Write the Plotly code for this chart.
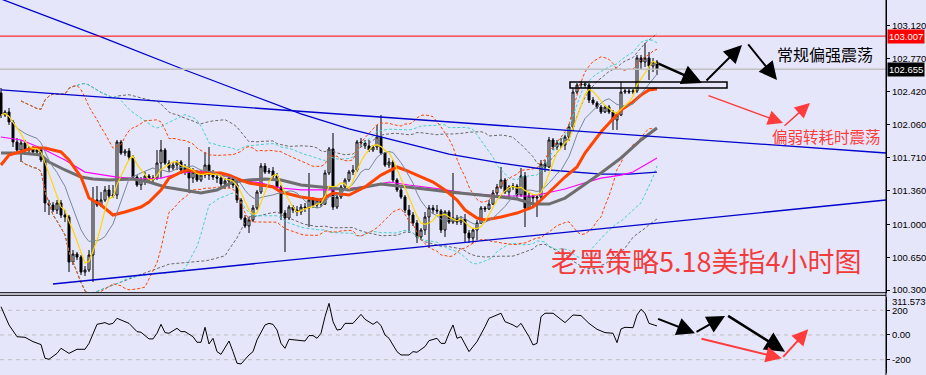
import plotly.graph_objects as go
import pandas as pd

# ---------------- data (4h USD index candles) ----------------
opens = [102.401,102.166,102.198,102.092,101.878,101.793,101.868,101.793,101.814,101.772,
         101.793,101.686,101.228,101.207,101.153,101.228,101.100,101.079,100.599,100.684,
         100.652,100.492,100.514,100.674,101.260,101.207,101.260,101.367,101.303,101.313,
         101.878,101.761,101.782,101.718,101.505,101.420,101.473,101.516,101.473,101.494,
         101.654,101.793,101.654,101.601,101.633,101.665,101.580,101.601,101.494,101.558,
         101.473,101.526,101.633,101.526,101.505,101.494,101.431,101.462,101.494,101.420,
         101.260,101.068,100.983,101.047,101.175,101.345,101.622,101.558,101.569,101.516,
         101.399,101.121,101.068,101.185,101.153,101.132,101.185,101.175,101.260,101.207,
         101.260,101.217,101.548,101.804,101.185,101.292,101.399,101.473,101.558,101.580,
         101.878,101.868,101.836,101.793,101.825,101.932,101.761,101.633,101.665,101.473,
         101.367,101.292,101.153,101.100,101.015,100.866,100.940,101.079,101.175,101.153,
         101.143,100.940,101.132,101.025,101.068,101.025,101.057,100.908,100.855,100.940,
         101.015,101.175,101.164,101.217,101.335,101.399,101.473,101.345,101.399,101.409,
         101.313,101.516,101.175,101.303,101.281,101.292,101.644,101.612,101.900,101.825,
         101.868,101.846,101.932,102.038,102.411,102.486,102.497,102.486,102.326,102.294,
         102.251,102.198,102.251,102.198,102.113,102.166,102.411,102.422,102.411,102.422,
         102.774,102.731,102.774,102.688,102.731]
highs = [102.454,102.219,102.241,102.113,101.921,101.900,101.900,101.836,101.836,101.825,
         101.804,101.708,101.260,101.239,101.260,101.260,101.153,101.100,100.727,100.706,
         100.674,100.556,100.727,101.399,101.409,101.345,101.409,101.420,101.420,101.900,
         101.900,101.804,101.814,101.740,101.526,101.505,101.558,101.537,101.526,101.793,
         101.900,101.814,101.686,101.665,101.686,101.686,101.644,101.825,101.601,101.580,
         101.580,101.772,101.825,101.580,101.558,101.516,101.494,101.526,101.516,101.441,
         101.281,101.100,101.079,101.207,101.367,101.654,101.654,101.601,101.612,101.548,
         101.420,101.153,101.207,101.207,101.196,101.217,101.228,101.548,101.292,101.281,
         101.281,101.580,101.825,101.974,101.313,101.420,101.494,101.580,101.633,101.900,
         101.921,101.900,101.900,101.846,102.060,102.166,101.772,101.708,101.686,101.494,
         101.399,101.313,101.207,101.132,101.047,100.962,101.132,101.207,101.207,101.207,
         101.164,101.153,101.153,101.548,101.100,101.089,101.111,100.940,100.962,101.047,
         101.196,101.196,101.260,101.367,101.431,101.612,101.494,101.420,101.441,101.431,
         101.601,101.558,101.335,101.313,101.313,101.686,101.686,101.932,101.921,101.900,
         101.921,101.953,102.070,102.454,102.507,102.529,102.518,102.507,102.358,102.315,
         102.273,102.273,102.273,102.219,102.198,102.518,102.443,102.443,102.443,102.806,
         102.806,102.934,102.838,102.774,102.752]
lows = [102.134,102.145,102.060,101.825,101.772,101.665,101.740,101.761,101.740,101.729,
        101.665,101.132,101.100,101.132,101.111,101.068,101.025,100.492,100.567,100.620,
        100.460,100.450,100.492,100.386,101.185,101.185,101.239,101.271,101.281,101.271,
        101.740,101.729,101.686,101.473,101.399,101.367,101.420,101.441,101.452,101.473,
        101.494,101.633,101.558,101.580,101.580,101.537,101.526,101.335,101.441,101.452,
        101.452,101.494,101.473,101.473,101.441,101.399,101.377,101.388,101.388,101.228,
        101.047,100.962,100.908,101.025,101.153,101.324,101.537,101.537,101.494,101.367,
        101.047,100.706,101.047,101.121,101.089,101.100,101.132,100.972,101.175,101.175,
        101.185,101.207,101.526,101.153,101.164,101.271,101.367,101.452,101.526,101.558,
        101.825,101.804,101.772,101.772,101.793,101.740,101.612,101.601,101.452,101.345,
        101.271,101.121,100.908,100.983,100.802,100.834,100.887,100.748,101.111,101.111,
        100.908,100.866,101.004,101.004,100.994,100.994,100.802,100.802,100.802,100.834,
        101.004,101.132,101.153,101.207,101.313,101.377,101.324,101.271,101.367,101.281,
        101.292,100.972,101.153,101.196,101.079,101.271,101.558,101.601,101.793,101.793,
        101.814,101.793,101.889,101.996,102.390,102.454,102.454,102.294,102.273,102.230,
        102.177,102.187,102.177,102.006,102.006,102.155,102.390,102.390,102.390,102.401,
        102.646,102.678,102.539,102.624,102.593]
closes = [102.166,102.198,102.092,101.878,101.793,101.868,101.793,101.814,101.772,101.793,
          101.686,101.228,101.207,101.153,101.228,101.100,101.079,100.599,100.684,100.652,
          100.492,100.514,100.674,101.260,101.207,101.260,101.367,101.303,101.313,101.878,
          101.761,101.782,101.718,101.505,101.420,101.473,101.516,101.473,101.494,101.654,
          101.793,101.654,101.601,101.633,101.665,101.580,101.601,101.494,101.558,101.473,
          101.526,101.633,101.526,101.505,101.494,101.431,101.462,101.494,101.420,101.260,
          101.068,100.983,101.047,101.175,101.345,101.622,101.558,101.569,101.516,101.399,
          101.121,101.068,101.185,101.153,101.132,101.185,101.175,101.260,101.207,101.260,
          101.217,101.548,101.804,101.185,101.292,101.399,101.473,101.558,101.580,101.878,
          101.868,101.836,101.793,101.825,101.932,101.761,101.633,101.665,101.473,101.367,
          101.292,101.153,101.100,101.015,100.866,100.940,101.079,101.175,101.153,101.143,
          100.940,101.132,101.025,101.068,101.025,101.057,100.908,100.855,100.940,101.015,
          101.175,101.164,101.217,101.335,101.399,101.473,101.345,101.399,101.409,101.313,
          101.516,101.175,101.303,101.281,101.292,101.644,101.612,101.900,101.825,101.868,
          101.846,101.932,102.038,102.411,102.486,102.497,102.486,102.326,102.294,102.251,
          102.198,102.251,102.198,102.113,102.166,102.411,102.422,102.411,102.422,102.774,
          102.731,102.774,102.688,102.731,102.655]

# moving averages (bar index, price)
ma20_idx = [0,2,8,11,15,17,20,22,25,28,31,35,37,40,42,45,47,50,55,57,60,62,65,68,70,75,80,83,87,91,
            95,99,101,104,108,111,114,116,119,121,125,129,133,135,138,141,144,146,150,155,158,160,162,164]
ma20_val = [101.633,101.740,101.814,101.814,101.772,101.686,101.505,101.281,101.207,101.100,101.132,
            101.185,101.239,101.367,101.494,101.558,101.580,101.548,101.548,101.526,101.473,101.441,
            101.420,101.399,101.345,101.292,101.260,101.335,101.313,101.399,101.526,101.612,101.580,
            101.526,101.452,101.367,101.260,101.153,101.068,101.047,101.079,101.121,101.185,101.260,
            101.388,101.505,101.612,101.761,101.985,102.219,102.305,102.379,102.433,102.443]
ma40_idx = [0,5,10,12,16,20,23,27,33,37,41,45,50,54,58,62,66,70,75,80,87,95,102,108,112,118,125,129,
            133,137,141,145,150,155,160,164]
ma40_val = [101.761,101.761,101.740,101.665,101.580,101.505,101.484,101.473,101.484,101.452,101.399,
            101.367,101.335,101.367,101.452,101.473,101.484,101.473,101.420,101.399,101.367,101.431,
            101.399,101.367,101.345,101.324,101.292,101.271,101.217,101.217,101.281,101.399,101.548,
            101.708,101.900,102.028]
ma60_idx = [0,5,10,16,21,29,35,40,45,50,55,60,65,70,75,83,91,97,102,110,116,125,133,141,145,150,155,
            158,164]
ma60_val = [101.932,101.900,101.814,101.686,101.558,101.505,101.484,101.494,101.548,101.569,101.526,
            101.473,101.441,101.388,101.367,101.367,101.399,101.452,101.420,101.377,101.335,101.303,
            101.303,101.377,101.431,101.494,101.526,101.558,101.708]
ma200_idx = [0,25,46,65,75,87,100,112,125,137,150,157,164]
ma200_val = [103.403,102.998,102.646,102.337,102.177,102.017,101.878,101.750,101.654,101.580,101.537,
             101.537,101.558]

# CCI-type oscillator (bar index, value)
cci_idx = [0,2,4,6,8,10,11,12,14,15,17,19,21,22,24,25,26,27,28,29,31,32,34,35,37,38,39,40,41,42,44,45,
           46,48,49,50,51,52,53,54,55,57,58,59,60,62,63,64,66,67,68,69,70,71,72,74,76,77,78,79,80,81,
           82,83,84,85,86,88,90,91,93,94,95,96,97,99,100,102,103,104,106,107,109,110,111,112,113,114,
           115,117,119,121,122,125,126,128,129,130,132,133,134,135,136,138,140,141,143,145,147,149,151,
           153,154,155,156,158,159,160,161,162,164]
cci_val = [229,81,-14,-19,-54,-78,-189,-197,-149,-108,-149,-116,-116,-68,86,94,100,86,94,135,108,94,
           27,22,-32,-32,14,86,19,14,54,27,27,-14,-59,-59,62,-73,-27,-135,-157,-49,-135,-229,-235,-162,
           -135,-40,81,94,86,40,-68,-108,-35,-40,-49,-5,-5,-27,14,148,256,108,40,46,94,94,167,127,86,
           108,76,0,-27,-135,-162,-162,-135,-140,-94,-46,-27,-68,-68,14,81,-27,-14,-135,-54,67,135,176,
           108,81,62,94,-14,-81,-68,148,176,176,121,100,162,157,94,46,19,14,-62,49,62,59,162,208,176,
           94,73]

# drawn objects (price levels / trend-line end values)
level_red = 103.007
level_last = 102.655
trend_upper_idx = [0, 221.25]
trend_upper_val = [102.433, 101.761]
trend_lower_idx = [13, 221.25]
trend_lower_val = [100.365, 101.260]
box_idx = [142.25, 181.5]
box_val = [102.454, 102.518]

price_ticks = [103.120, 102.770, 102.420, 102.060, 101.710, 101.360, 101.000, 100.650, 100.300]
osc_ticks = [200, 0, -200]
osc_tick_text = ["200", "0.00", "-200"]
osc_max_label = "311.5739"
osc_min_label = "-305.633"

# ---------------- figure ----------------
BG = "#e6e6fa"
X_RANGE = [-0.25, 221.25]
Y_RANGE = [100.272, 103.392]
Y2_RANGE = [-305.633, 311.5739]
idx = list(range(len(closes)))
cs = pd.Series(closes)

fig = go.Figure()
fig.add_trace(go.Candlestick(
    x=idx, open=opens, high=highs, low=lows, close=closes,
    increasing=dict(line=dict(color="black", width=1), fillcolor="white"),
    decreasing=dict(line=dict(color="black", width=1), fillcolor="black"),
    whiskerwidth=0, hoverinfo="skip"))


def bands(period, k=2.0):
    m = cs.rolling(period, min_periods=6).mean()
    s = cs.rolling(period, min_periods=6).std(ddof=0)
    return (m + k * s), (m - k * s)


for period, col in [(40, "#696969"), (30, "#48d1cc"), (20, "#ff4500")]:
    up, lo = bands(period)
    for ser in (up, lo):
        fig.add_trace(go.Scatter(x=idx, y=ser, mode="lines",
                                 line=dict(color=col, width=1, dash="3px,2px"), hoverinfo="skip"))

fig.add_trace(go.Scatter(x=ma200_idx, y=ma200_val, mode="lines", line=dict(color="#0000cd", width=1.3)))
fig.add_trace(go.Scatter(x=ma60_idx, y=ma60_val, mode="lines", line=dict(color="#ff00ff", width=1.2)))
fig.add_trace(go.Scatter(x=ma40_idx, y=ma40_val, mode="lines", line=dict(color="#6e6e6e", width=3)))
fig.add_trace(go.Scatter(x=ma20_idx, y=ma20_val, mode="lines", line=dict(color="#ff4500", width=3)))
fig.add_trace(go.Scatter(x=idx, y=cs.rolling(10, min_periods=1).mean(), mode="lines",
                         line=dict(color="#778899", width=1)))
fig.add_trace(go.Scatter(x=idx, y=cs.rolling(5, min_periods=1).mean(), mode="lines",
                         line=dict(color="#ffd700", width=1.2)))

fig.add_trace(go.Scatter(x=cci_idx, y=cci_val, mode="lines", yaxis="y2",
                         line=dict(color="black", width=1)))

shapes = []
shapes.append(dict(type="line", xref="paper", x0=0, x1=1, yref="y", y0=level_red, y1=level_red,
                   line=dict(color="#ff0000", width=1)))
shapes.append(dict(type="line", xref="paper", x0=0, x1=1, yref="y", y0=level_last, y1=level_last,
                   line=dict(color="#c0c0c0", width=1.5)))
shapes.append(dict(type="line", xref="x", yref="y", x0=trend_upper_idx[0], x1=trend_upper_idx[1],
                   y0=trend_upper_val[0], y1=trend_upper_val[1], line=dict(color="#0000cd", width=1.3)))
shapes.append(dict(type="line", xref="x", yref="y", x0=trend_lower_idx[0], x1=trend_lower_idx[1],
                   y0=trend_lower_val[0], y1=trend_lower_val[1], line=dict(color="#0000cd", width=1.3)))
shapes.append(dict(type="rect", xref="x", yref="y", x0=box_idx[0], x1=box_idx[1],
                   y0=box_val[0], y1=box_val[1], line=dict(color="black", width=1.5)))
for lv in (200, 0, -200):
    shapes.append(dict(type="line", xref="paper", x0=0, x1=1, yref="y2", y0=lv, y1=lv,
                       line=dict(color="#c0c0c0", width=1, dash="4px,4px"), layer="below"))
# pane borders
shapes.append(dict(type="line", xref="paper", yref="paper", x0=0, x1=1,
                   y0=1 - 292.7 / 375, y1=1 - 292.7 / 375, line=dict(color="black", width=1)))
shapes.append(dict(type="line", xref="paper", yref="paper", x0=0, x1=1,
                   y0=1 - 295.3 / 375, y1=1 - 295.3 / 375, line=dict(color="black", width=1)))
shapes.append(dict(type="line", xref="paper", yref="paper", x0=1, x1=1, y0=0, y1=1,
                   line=dict(color="black", width=1)))

ann = []


def arrow(x0, y0, x1, y1, color, width, size, yref="y"):
    ann.append(dict(x=x1, y=y1, ax=x0, ay=y0, xref="x", yref=yref, axref="x", ayref=yref,
                    text="", showarrow=True, arrowhead=2, arrowsize=size, arrowwidth=width,
                    arrowcolor=color))


arrow(164, 102.720, 175.25, 102.507, "black", 2.5, 1.6)
arrow(176, 102.518, 185.25, 102.912, "black", 2, 1.8)
arrow(186.5, 102.934, 194, 102.539, "black", 2, 1.8)
arrow(176.5, 102.379, 195.5, 102.081, "#ff3b3b", 1.5, 2)
arrow(195.5, 102.038, 202.25, 102.294, "#ff3b3b", 1.5, 2)
arrow(163.9, 135, 173.5, 14, "black", 2, 1.8, "y2")
arrow(173.5, 19, 181, 154, "black", 2, 1.8, "y2")
arrow(181.4, 162, 196, -135, "black", 2.5, 1.6, "y2")
arrow(174.75, -27, 195.2, -189, "#ff3b3b", 2, 1.6, "y2")
arrow(195.2, -189, 201.8, 46, "#ff3b3b", 2, 1.6, "y2")

ann.append(dict(x=206, y=102.816, xref="x", yref="y", text="常规偏强震荡", showarrow=False,
                font=dict(family="Noto Sans CJK SC", size=16, color="black")))
ann.append(dict(x=206.25, y=101.942, xref="x", yref="y", text="偏弱转耗时震荡", showarrow=False,
                font=dict(family="Noto Sans CJK SC", size=15.5, color="#ff3b3b")))
ann.append(dict(x=176.25, y=100.620, xref="x", yref="y", text="老黑策略5.18美指4小时图", showarrow=False,
                font=dict(family="Noto Sans CJK SC", size=27, color="#f23c3c")))
for lv, bg in ((level_red, "#ff0000"), (level_last, "black")):
    ann.append(dict(x=1, y=lv, xref="paper", yref="y", xanchor="left", xshift=1, text=f"{lv:.3f}",
                    showarrow=False, bgcolor=bg, borderpad=1,
                    font=dict(family="Liberation Sans", size=9.5, color="white")))
# oscillator pane max / min labels (MT4 style, inside the pane edges)
ann.append(dict(x=1, y=1 - 301.5 / 375, xref="paper", yref="paper", xanchor="left", xshift=4,
                yanchor="middle", text=osc_max_label, showarrow=False,
                font=dict(family="Liberation Sans", size=9.5, color="black")))
ann.append(dict(x=1, y=1 - 377.5 / 375, xref="paper", yref="paper", xanchor="left", xshift=4,
                yanchor="middle", text=osc_min_label, showarrow=False,
                font=dict(family="Liberation Sans", size=9.5, color="black")))

axis_common = dict(side="right", ticks="outside", ticklen=3, tickcolor="black", showline=True,
                   linecolor="black", linewidth=1, showgrid=False, zeroline=False, automargin=False,
                   tickfont=dict(family="Liberation Sans", size=9.5, color="black"), anchor="x")

fig.update_layout(
    width=926, height=375, margin=dict(l=0, r=40, t=0, b=0, pad=0, autoexpand=False),
    paper_bgcolor=BG, plot_bgcolor=BG, showlegend=False,
    xaxis=dict(range=X_RANGE, visible=False, rangeslider=dict(visible=False), fixedrange=True,
               automargin=False),
    yaxis=dict(domain=[1 - 292.7 / 375, 1], range=Y_RANGE, tickvals=price_ticks,
               ticktext=[f"{v:.3f}" for v in price_ticks], **axis_common),
    yaxis2=dict(domain=[1 - 372.7 / 375, 1 - 296.5 / 375], range=Y2_RANGE, tickvals=osc_ticks,
                ticktext=osc_tick_text, **axis_common),
    shapes=shapes, annotations=ann, hovermode=False,
)

fig.write_html("out.html", config={"displayModeBar": False},
               post_script="document.body.style.margin='0';document.body.style.overflow='hidden';")
